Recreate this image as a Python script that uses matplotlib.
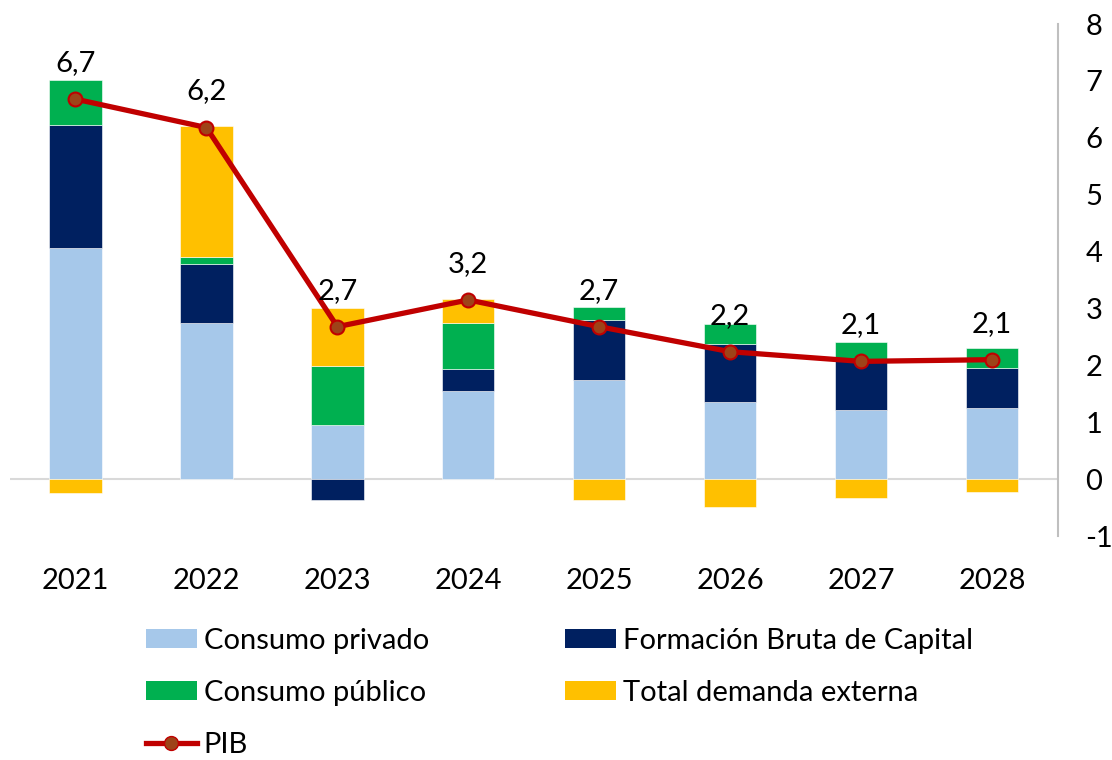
import matplotlib
matplotlib.use("Agg")
import matplotlib.pyplot as plt
from matplotlib.patches import Patch
from matplotlib.lines import Line2D
import numpy as np

years = ["2021", "2022", "2023", "2024", "2025", "2026", "2027", "2028"]
consumo_privado = [4.07, 2.75, 0.95, 1.55, 1.75, 1.35, 1.22, 1.25]
formacion_bruta = [2.16, 1.03, -0.36, 0.38, 1.04, 1.02, 0.87, 0.71]
consumo_publico = [0.79, 0.12, 1.04, 0.81, 0.24, 0.35, 0.32, 0.35]
demanda_externa = [-0.25, 2.30, 1.01, 0.42, -0.36, -0.49, -0.34, -0.23]
pib = [6.68, 6.18, 2.68, 3.15, 2.68, 2.24, 2.07, 2.10]
pib_labels = ["6,7", "6,2", "2,7", "3,2", "2,7", "2,2", "2,1", "2,1"]
y_ticks = [-1, 0, 1, 2, 3, 4, 5, 6, 7, 8]

series = [
    ("Consumo privado", consumo_privado, "#A6C8EA"),
    ("Formación Bruta de Capital", formacion_bruta, "#002060"),
    ("Consumo público", consumo_publico, "#00B050"),
    ("Total demanda externa", demanda_externa, "#FFC000"),
]

plt.rcParams['font.family'] = ['Lato', 'DejaVu Sans']
FS = 21

fig = plt.figure(figsize=(11.12, 7.6), dpi=100)
ax = fig.add_axes([0.009, 0.2947, 0.942, 0.6737])

x = np.arange(len(years))
pos_bottom = np.zeros(len(years))
neg_bottom = np.zeros(len(years))
for name, vals, col in series:
    v = np.array(vals)
    bottoms = np.where(v >= 0, pos_bottom, neg_bottom)
    ax.bar(x, v, 0.40, bottom=bottoms, color=col, edgecolor="white",
           linewidth=0.4, zorder=2)
    pos_bottom = pos_bottom + np.where(v >= 0, v, 0)
    neg_bottom = neg_bottom + np.where(v < 0, v, 0)

ax.axhline(0, color="#D9D9D9", lw=1.5, zorder=1)
ax.plot(x, pib, color="#C00000", lw=3.8, marker="o", markersize=10,
        markerfacecolor="#9E4318", markeredgecolor="#C00000",
        markeredgewidth=1.5, zorder=4)
for xi, yi, lab in zip(x, pib, pib_labels):
    ax.annotate(lab, (xi, yi), xytext=(0, 26), textcoords="offset points",
                ha="center", va="center", fontsize=FS, zorder=5)

ax.set_xlim(-0.5, 7.5)
ax.set_ylim(-1, 8)
ax.set_yticks(y_ticks)
ax.set_yticklabels([str(t) for t in y_ticks])
ax.yaxis.tick_right()
ax.set_xticks(x)
ax.set_xticklabels(years)
ax.tick_params(axis="both", length=0, labelsize=FS)
ax.tick_params(axis="x", pad=23)
ax.tick_params(axis="y", pad=20)
for s in ["top", "left", "bottom"]:
    ax.spines[s].set_visible(False)
ax.spines["right"].set_color("#BFBFBF")
ax.spines["right"].set_linewidth(1.5)

h_cp = Patch(facecolor=series[0][2], label=series[0][0])
h_fbc = Patch(facecolor=series[1][2], label=series[1][0])
h_cpub = Patch(facecolor=series[2][2], label=series[2][0])
h_tde = Patch(facecolor=series[3][2], label=series[3][0])
h_pib = Line2D([0], [0], color="#C00000", lw=3.8, marker="o", markersize=10,
               markerfacecolor="#9E4318", markeredgecolor="#C00000", label="PIB")
handles = [h_cp, h_cpub, h_pib, h_fbc, h_tde]
fig.legend(handles=handles, labels=[h.get_label() for h in handles],
           ncol=2, loc="upper left", bbox_to_anchor=(0.131, 0.174),
           frameon=False, fontsize=FS, handlelength=1.75, handleheight=0.62,
           handletextpad=0.24, columnspacing=4.66, labelspacing=0.9,
           borderpad=0, borderaxespad=0)

fig.savefig("out.png", dpi=100)
